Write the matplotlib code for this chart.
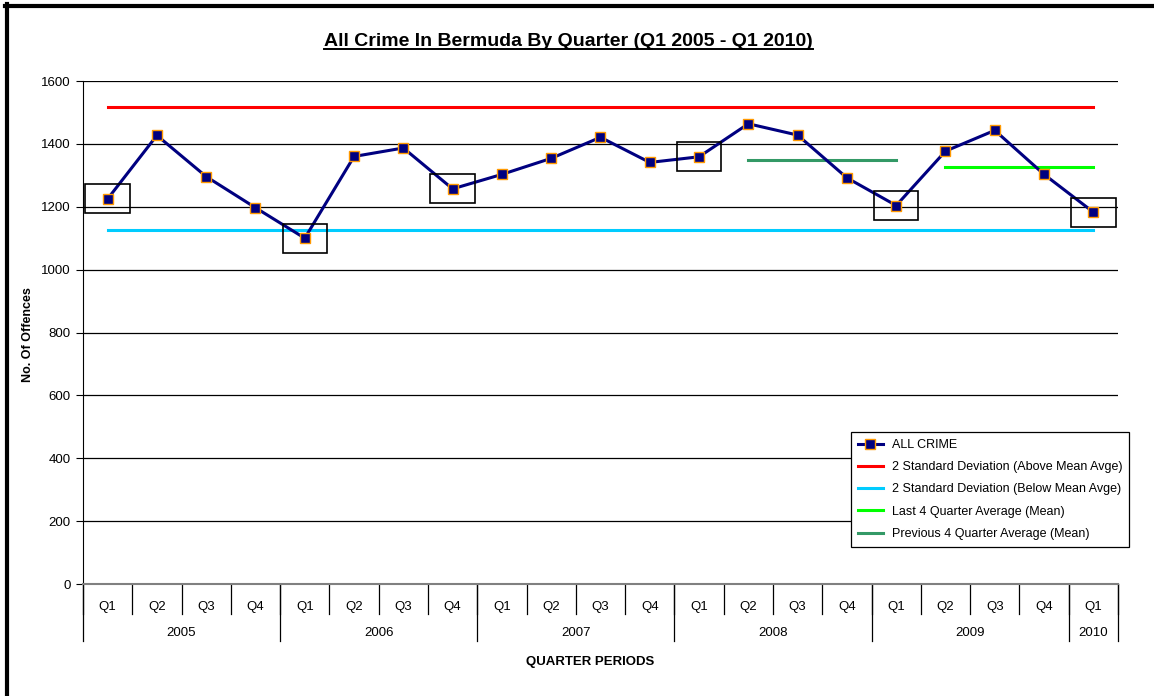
import numpy as np
import matplotlib.pyplot as plt
from matplotlib.patches import Rectangle
import matplotlib.transforms as mtransforms

plt.rcParams['font.family'] = ['Liberation Sans', 'DejaVu Sans']

# data
quarters = ['Q1', 'Q2', 'Q3', 'Q4'] * 5 + ['Q1']
years = ['2005', '2006', '2007', '2008', '2009', '2010']
year_counts = [4, 4, 4, 4, 4, 1]
all_crime = [1225, 1427, 1296, 1197, 1100, 1360, 1387, 1257, 1303, 1354,
             1421, 1341, 1359, 1464, 1428, 1292, 1204, 1377, 1443, 1303, 1183]
upper_2sd = 1516
lower_2sd = 1125
last4_avg = 1326
last4_idx = [17, 20]
prev4_avg = 1348
prev4_idx = [13, 16]
boxed = [0, 4, 7, 12, 16, 20]

fig = plt.figure(figsize=(11.54, 6.96), dpi=100)
ax = fig.add_axes([0.0719, 0.1609, 0.8969, 0.7227])

x = np.arange(len(all_crime))
n = len(x)

ax.plot([0, n - 1], [upper_2sd] * 2, color='#ff0000', lw=2.2,
        label='2 Standard Deviation (Above Mean Avge)', zorder=3)
ax.plot([0, n - 1], [lower_2sd] * 2, color='#00ccff', lw=2.2,
        label='2 Standard Deviation (Below Mean Avge)', zorder=3)
ax.plot(last4_idx, [last4_avg] * 2, color='#00ff00', lw=2.2,
        label='Last 4 Quarter Average (Mean)', zorder=3)
ax.plot(prev4_idx, [prev4_avg] * 2, color='#339966', lw=2.2,
        label='Previous 4 Quarter Average (Mean)', zorder=3)
ax.plot(x, all_crime, color='#000080', lw=2.2, marker='s', ms=7,
        mfc='#000080', mec='#ff9900', mew=1.0, label='ALL CRIME', zorder=5)

# highlight boxes
for i in boxed:
    ax.add_patch(Rectangle((i - 0.45, all_crime[i] - 46), 0.9, 92,
                           fill=False, ec='black', lw=1.2, zorder=6))

ax.set_xlim(-0.5, n - 0.5)
ax.set_ylim(0, 1600)
ax.set_yticks(range(0, 1601, 200))
ax.yaxis.grid(True, color='black', lw=0.9)
ax.set_axisbelow(True)
for s in ['top', 'right']:
    ax.spines[s].set_visible(False)
ax.spines['left'].set_color('black')
ax.spines['bottom'].set_color('#808080')
ax.spines['bottom'].set_linewidth(1.5)
ax.tick_params(axis='y', labelsize=9.5, length=5, direction='out', pad=4)

# category axis with two levels
ax.set_xticks(x)
ax.set_xticklabels(quarters, fontsize=9.5)
ax.tick_params(axis='x', length=0, pad=12)
trans = mtransforms.blended_transform_factory(ax.transData, ax.transAxes)
for k in range(n + 1):
    ax.plot([k - 0.5, k - 0.5], [0, -0.0596], color='black', lw=0.9,
            transform=trans, clip_on=False)
start = 0
for yr, c in zip(years, year_counts):
    ax.plot([start - 0.5, start - 0.5], [0, -0.113], color='black', lw=0.9,
            transform=trans, clip_on=False)
    ax.text(start + (c - 1) / 2, -0.097, yr, transform=trans, ha='center',
            va='center', fontsize=9.5)
    start += c
ax.plot([n - 0.5, n - 0.5], [0, -0.113], color='black', lw=0.9,
        transform=trans, clip_on=False)

fig.text(0.511, 0.049, 'QUARTER PERIODS', ha='center', va='center',
         fontsize=9.5, fontweight='bold')
fig.text(0.024, 0.52, 'No. Of Offences', ha='center', va='center',
         rotation=90, fontsize=9, fontweight='bold')
t = fig.text(0.4925, 0.94, 'All Crime In Bermuda By Quarter (Q1 2005 - Q1 2010)',
             ha='center', va='center', fontsize=14, fontweight='bold')
fig.canvas.draw()
bb = t.get_window_extent().transformed(fig.transFigure.inverted())
fig.add_artist(plt.Line2D([bb.x0, bb.x1], [bb.y0 + 0.002, bb.y0 + 0.002],
                          color='black', lw=1.4, transform=fig.transFigure))

handles, labels = ax.get_legend_handles_labels()
order = [4, 0, 1, 2, 3]
leg = ax.legend([handles[i] for i in order], [labels[i] for i in order],
                loc='upper left', bbox_to_anchor=(0.742, 0.302),
                borderaxespad=0, fontsize=9, frameon=True, fancybox=False,
                edgecolor='black', framealpha=1, handlelength=2.0,
                handletextpad=0.7, borderpad=0.55, labelspacing=0.82)
leg.get_frame().set_linewidth(0.9)

# frame edges (left and top) as in the source image
fig.add_artist(plt.Line2D([6.5 / 1154, 6.5 / 1154], [0, 1 - 4 / 696],
                          color='black', lw=3, transform=fig.transFigure))
fig.add_artist(plt.Line2D([5 / 1154, 1], [1 - 6 / 696, 1 - 6 / 696],
                          color='black', lw=3, transform=fig.transFigure))

fig.savefig('out.png', dpi=100)
